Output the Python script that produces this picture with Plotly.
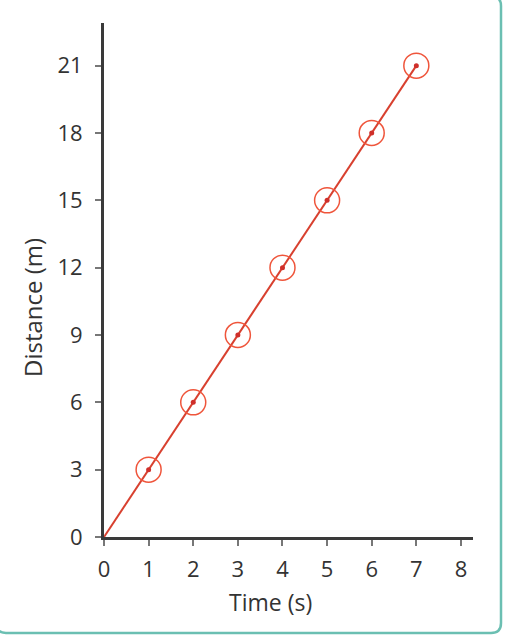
import plotly.graph_objects as go

time_s = [1, 2, 3, 4, 5, 6, 7]
distance_m = [3, 6, 9, 12, 15, 18, 21]
x_ticks = [0, 1, 2, 3, 4, 5, 6, 7, 8]
y_ticks = [0, 3, 6, 9, 12, 15, 18, 21]

W, H = 506, 636
L, R, T, B = 104, 33, 23, 99
pw, ph = W - L - R, H - T - B

def px(x):
    return (x - L) / pw

def py(y):
    return (H - B - y) / ph

fig = go.Figure()

# best-fit line from origin through the points
fig.add_trace(go.Scatter(
    x=[0] + time_s, y=[0] + distance_m, mode="lines",
    line=dict(color="#d8402f", width=2), hoverinfo="skip", showlegend=False))

# hand-drawn circles around points
fig.add_trace(go.Scatter(
    x=time_s, y=distance_m, mode="markers",
    marker=dict(symbol="circle-open", size=25,
                line=dict(color="rgba(195,60,50,0.8)", width=1.5)),
    hoverinfo="skip", showlegend=False))

# data dots
fig.add_trace(go.Scatter(
    x=time_s, y=distance_m, mode="markers",
    marker=dict(symbol="circle", size=5, color="#cf2f2a"),
    showlegend=False))

font = "Open Sans, Noto Sans, sans-serif"

fig.update_xaxes(
    range=[0, 8.27], tickvals=x_ticks, ticktext=[str(v) for v in x_ticks],
    showgrid=False, zeroline=False, showline=True, linecolor="#3a3a3a", linewidth=3,
    ticks="outside", ticklen=6, tickwidth=2, tickcolor="#777",
    ticklabelstandoff=5,
    tickfont=dict(family=font, size=22, color="#333"))
fig.update_yaxes(
    range=[0, 22.9], tickvals=y_ticks, ticktext=[str(v) for v in y_ticks],
    showgrid=False, zeroline=False, showline=True, linecolor="#3a3a3a", linewidth=3,
    ticks="outside", ticklen=6, tickwidth=2, tickcolor="#777",
    ticklabelstandoff=8,
    tickfont=dict(family=font, size=22, color="#333"))

# rounded panel border (teal)
x0, x1 = px(-4), px(501)
y0, y1 = py(633), py(-4)
rx, ry = 10 / pw, 10 / ph
path = (f"M {x0+rx},{y1} L {x1-rx},{y1} Q {x1},{y1} {x1},{y1-ry} "
        f"L {x1},{y0+ry} Q {x1},{y0} {x1-rx},{y0} L {x0+rx},{y0} "
        f"Q {x0},{y0} {x0},{y0+ry} L {x0},{y1-ry} Q {x0},{y1} {x0+rx},{y1} Z")
fig.add_shape(type="path", path=path, xref="paper", yref="paper",
              line=dict(color="#6bbfb2", width=2.5), layer="below")

fig.update_layout(
    width=W, height=H,
    margin=dict(l=L, r=R, t=T, b=B, pad=0),
    paper_bgcolor="white", plot_bgcolor="white",
    font=dict(family=font, color="#333"),
    annotations=[
        dict(text="Time (s)", x=px(270), y=py(602), xref="paper", yref="paper",
             showarrow=False, xanchor="center", yanchor="middle",
             font=dict(family=font, size=23, color="#333")),
        dict(text="Distance (m)", x=px(32), y=py(308), xref="paper", yref="paper",
             showarrow=False, xanchor="center", yanchor="middle", textangle=-90,
             font=dict(family=font, size=24, color="#333")),
    ],
)

fig.write_html("out.html")
